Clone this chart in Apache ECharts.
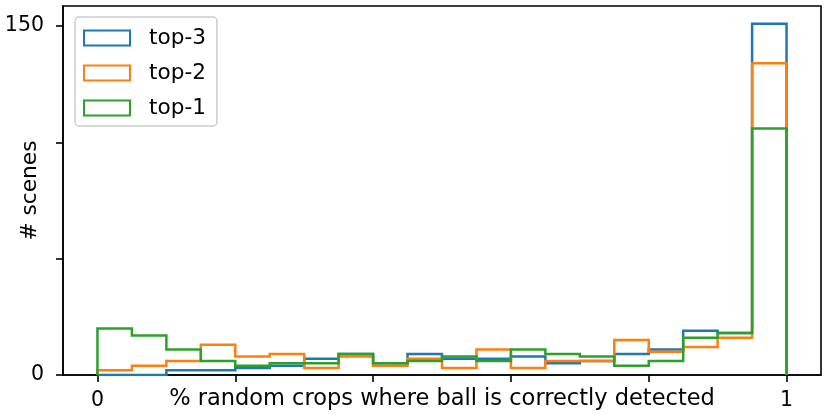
<!DOCTYPE html>
<html>
<head>
<meta charset="utf-8">
<script src="https://cdn.jsdelivr.net/npm/echarts@6/dist/echarts.min.js"></script>
<style>
  html, body { margin: 0; padding: 0; background: #fff; }
  #chart { width: 831px; height: 415px; }
</style>
</head>
<body>
<div id="chart"></div>
<script>
// bin edges of the 20 histogram bins
const binEdges = [0, 0.05, 0.1, 0.15, 0.2, 0.25, 0.3, 0.35, 0.4, 0.45, 0.5,
  0.55, 0.6, 0.65, 0.7, 0.75, 0.8, 0.85, 0.9, 0.95, 1]

// counts per bin
const top3 = [0, 0, 2, 2, 3, 4, 7, 9, 5, 9, 7, 7, 8, 5, 6, 9, 11, 19, 18, 151]
const top2 = [2, 4, 6, 13, 8, 9, 3, 8, 4, 7, 3, 11, 3, 6, 6, 15, 10, 12, 16, 134]
const top1 = [20, 17, 11, 6, 4, 5, 5, 9, 5, 6, 8, 6, 11, 9, 8, 4, 6, 16, 18, 106]

const xLabelValues = [0, 1]
const xTickValues = [0, 0.2, 0.4, 0.6, 0.8, 1]
const yLabelValues = [0, 150]
const yTickValues = [0, 50, 100, 150]

const names = ['top-3', 'top-2', 'top-1']
const colors = ['#1f77b4', '#ff7f0e', '#2ca02c']
const font = 'DejaVu Sans'

// outline of a step histogram (like matplotlib histtype='step')
function stepOutline(counts) {
  const pts = [[binEdges[0], 0]]
  counts.forEach((c, i) => {
    pts.push([binEdges[i], c])
    pts.push([binEdges[i + 1], c])
  })
  pts.push([binEdges[binEdges.length - 1], 0])
  return pts
}

const chart = echarts.init(document.getElementById('chart'))

const axisCommon = {
  axisLine: { show: true, onZero: false, lineStyle: { color: '#000', width: 1.6 } },
  splitLine: { show: false },
  nameMoveOverlap: false,
}

chart.setOption({
  animation: false,
  textStyle: { fontFamily: font },
  grid: {
    left: 63, right: 10, top: 6, bottom: 40,
    containLabel: false, outerBoundsMode: 'none',
    show: true, borderColor: '#000', borderWidth: 1.6,
  },
  legend: {
    orient: 'vertical',
    left: 75, top: 17,
    padding: [10, 11, 7, 8],
    itemWidth: 46, itemHeight: 15, itemGap: 13,
    backgroundColor: 'rgba(255,255,255,0.8)',
    borderColor: '#ccc', borderWidth: 1.5, borderRadius: 4,
    textStyle: { fontFamily: font, fontSize: 21.6, color: '#000', lineHeight: 20, padding: [0, 0, 0, 14] },
    data: names.map((n, i) => ({
      name: n,
      icon: 'rect',
      itemStyle: { color: 'transparent', borderColor: colors[i], borderWidth: 2 },
    })),
  },
  xAxis: {
    ...axisCommon,
    type: 'value',
    min: -0.05, max: 1.05,
    name: '% random crops where ball is correctly detected',
    nameLocation: 'middle', nameGap: 13,
    nameTextStyle: { fontFamily: font, fontSize: 22.5, color: '#000', verticalAlign: 'top' },
    axisTick: { show: true, length: 7, lineStyle: { color: '#000', width: 1.6 }, customValues: xTickValues },
    axisLabel: { fontFamily: font, fontSize: 20.5, color: '#000', margin: 15, customValues: xLabelValues },
  },
  yAxis: {
    ...axisCommon,
    type: 'value',
    min: 0, max: 158.6,
    name: '# scenes',
    nameLocation: 'middle', nameGap: 22,
    nameTextStyle: { fontFamily: font, fontSize: 21.7, color: '#000' },
    axisTick: { show: true, length: 7, lineStyle: { color: '#000', width: 1.6 }, customValues: yTickValues },
    axisLabel: { fontFamily: font, fontSize: 20.5, color: '#000', margin: 19, customValues: yLabelValues },
  },
  series: [top3, top2, top1].map((d, i) => ({
    name: names[i],
    type: 'line',
    data: stepOutline(d),
    showSymbol: false,
    symbol: 'none',
    color: colors[i],
    lineStyle: { color: colors[i], width: 2.5, join: 'miter' },
    itemStyle: { color: colors[i] },
  })),
})
</script>
</body>
</html>
